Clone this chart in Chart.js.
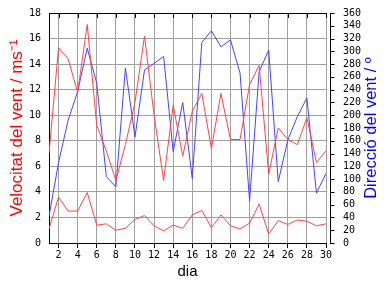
<!DOCTYPE html>
<html>
<head>
<meta charset="utf-8">
<script src="https://cdn.jsdelivr.net/npm/chart.js@4/dist/chart.umd.min.js"></script>
<style>
  html, body { margin: 0; padding: 0; background: #fff; }
  #wrap { width: 384px; height: 288px; }
</style>
</head>
<body>
<div id="wrap"><canvas id="windChart"></canvas></div>
<script>
// days of the month
var days = [1, 2, 3, 4, 5, 6, 7, 8, 9, 10, 11, 12, 13, 14, 15,
            16, 17, 18, 19, 20, 21, 22, 23, 24, 25, 26, 27, 28, 29, 30];
var xTicks = [2, 4, 6, 8, 10, 12, 14, 16, 18, 20, 22, 24, 26, 28, 30];

// wind speed (m/s): daily max and daily mean
var maxSpeed = [7.0, 15.3, 14.4, 11.8, 17.1, 9.2, 7.2, 4.9, 7.7, 11.0,
                16.2, 10.0, 4.9, 10.8, 6.8, 10.3, 11.7, 7.4, 11.7, 8.1,
                8.1, 12.4, 13.9, 5.4, 9.0, 8.1, 7.7, 9.8, 6.3, 7.2];
var meanSpeed = [1.1, 3.6, 2.5, 2.5, 3.95, 1.4, 1.5, 1.0, 1.15, 1.85,
                 2.15, 1.35, 0.95, 1.4, 1.15, 2.2, 2.55, 1.2, 2.2, 1.35,
                 1.1, 1.55, 3.05, 0.7, 1.75, 1.45, 1.8, 1.7, 1.35, 1.5];

// wind direction (degrees)
var direction = [42, 126, 192, 237, 305, 250, 104, 88, 274, 166,
                 271, 281, 292, 143, 220, 101, 314, 332, 307, 318,
                 266, 66, 268, 302, 96, 161, 198, 227, 78, 109];

var gridGray = '#a0a0a0';
var tickFont = { family: 'DejaVu Sans Mono', size: 10 };

// top frame line with inward ticks, detached right axis and its title
var framePlugin = {
    id: 'frame',
    afterDraw: function(chart) {
        var ctx = chart.ctx;
        var a = chart.chartArea;
        var xs = chart.scales.x;
        var yr = chart.scales.y1;
        ctx.save();
        ctx.strokeStyle = '#000';
        ctx.lineWidth = 1;
        ctx.beginPath();
        ctx.moveTo(a.left, a.top + 0.5);
        ctx.lineTo(a.right + 1, a.top + 0.5);
        xTicks.forEach(function(d) {
            var x = Math.round(xs.getPixelForValue(d)) + 0.5;
            ctx.moveTo(x, a.top);
            ctx.lineTo(x, a.top + 5);
        });
        var rx = Math.round(a.right) + 4.5;
        ctx.moveTo(rx, a.top);
        ctx.lineTo(rx, a.bottom + 1);
        yr.ticks.forEach(function(t) {
            var y = Math.round(yr.getPixelForValue(t.value)) + 0.5;
            ctx.moveTo(rx, y);
            ctx.lineTo(rx + 4, y);
        });
        ctx.stroke();

        ctx.fillStyle = '#0000ff';
        ctx.font = '16.5px "Liberation Sans"';
        ctx.textAlign = 'center';
        ctx.textBaseline = 'middle';
        ctx.translate(371, (a.top + a.bottom) / 2);
        ctx.rotate(-Math.PI / 2);
        ctx.fillText('Direcció del vent / º', 0, 0);
        ctx.restore();
    }
};

var ctx = document.getElementById('windChart').getContext('2d');

var windChart = new Chart(ctx, {
    type: 'line',
    data: {
        labels: days,
        datasets: [{
            label: 'Velocitat màxima',
            data: maxSpeed,
            borderColor: '#ff4444',
            yAxisID: 'y'
        },
        {
            label: 'Velocitat mitjana',
            data: meanSpeed,
            borderColor: '#ff4444',
            yAxisID: 'y'
        },
        {
            label: 'Direcció',
            data: direction,
            borderColor: '#4444ff',
            yAxisID: 'y1'
        }]
    },
    options: {
        responsive: true,
        maintainAspectRatio: false,
        animation: false,
        elements: {
            point: { radius: 0 },
            line: { borderWidth: 1, tension: 0 }
        },
        layout: { padding: { top: 13 } },
        plugins: {
            legend: { display: false },
            tooltip: { enabled: false }
        },
        scales: {
            x: {
                type: 'linear',
                min: 1,
                max: 30,
                afterBuildTicks: function(scale) {
                    scale.ticks = xTicks.map(function(v) { return { value: v }; });
                },
                afterFit: function(scale) { scale.height = 45; },
                grid: {
                    color: gridGray,
                    tickColor: '#000',
                    tickLength: 5
                },
                border: { color: '#000' },
                ticks: {
                    color: '#000',
                    font: tickFont,
                    padding: 1,
                    maxRotation: 0,
                    autoSkip: false
                },
                title: {
                    display: true,
                    text: 'dia',
                    color: '#000',
                    font: { family: 'Liberation Sans', size: 15 },
                    padding: { top: 0, bottom: 7 }
                }
            },
            y: {
                position: 'left',
                min: 0,
                max: 18,
                ticks: {
                    stepSize: 2,
                    color: '#000',
                    font: tickFont,
                    padding: 0,
                    autoSkip: false
                },
                afterFit: function(scale) { scale.width = 49; },
                grid: {
                    color: function(c) { return c.tick && c.tick.value === 0 ? 'rgba(0,0,0,0)' : gridGray; },
                    tickLength: 8,
                    tickColor: 'rgba(0,0,0,0)'
                },
                border: { color: '#000' },
                title: {
                    display: true,
                    text: 'Velocitat del vent / ms⁻¹',
                    color: '#ff0000',
                    font: { family: 'Liberation Sans', size: 17 },
                    padding: { top: 7, bottom: 0 }
                }
            },
            y1: {
                position: 'right',
                min: 0,
                max: 360,
                ticks: {
                    stepSize: 20,
                    color: '#000',
                    font: tickFont,
                    padding: 0,
                    autoSkip: false
                },
                afterFit: function(scale) { scale.width = 58; },
                grid: {
                    drawOnChartArea: false,
                    tickLength: 17,
                    tickColor: 'rgba(0,0,0,0)'
                },
                border: { display: false }
            }
        }
    },
    plugins: [framePlugin]
});
</script>
</body>
</html>
